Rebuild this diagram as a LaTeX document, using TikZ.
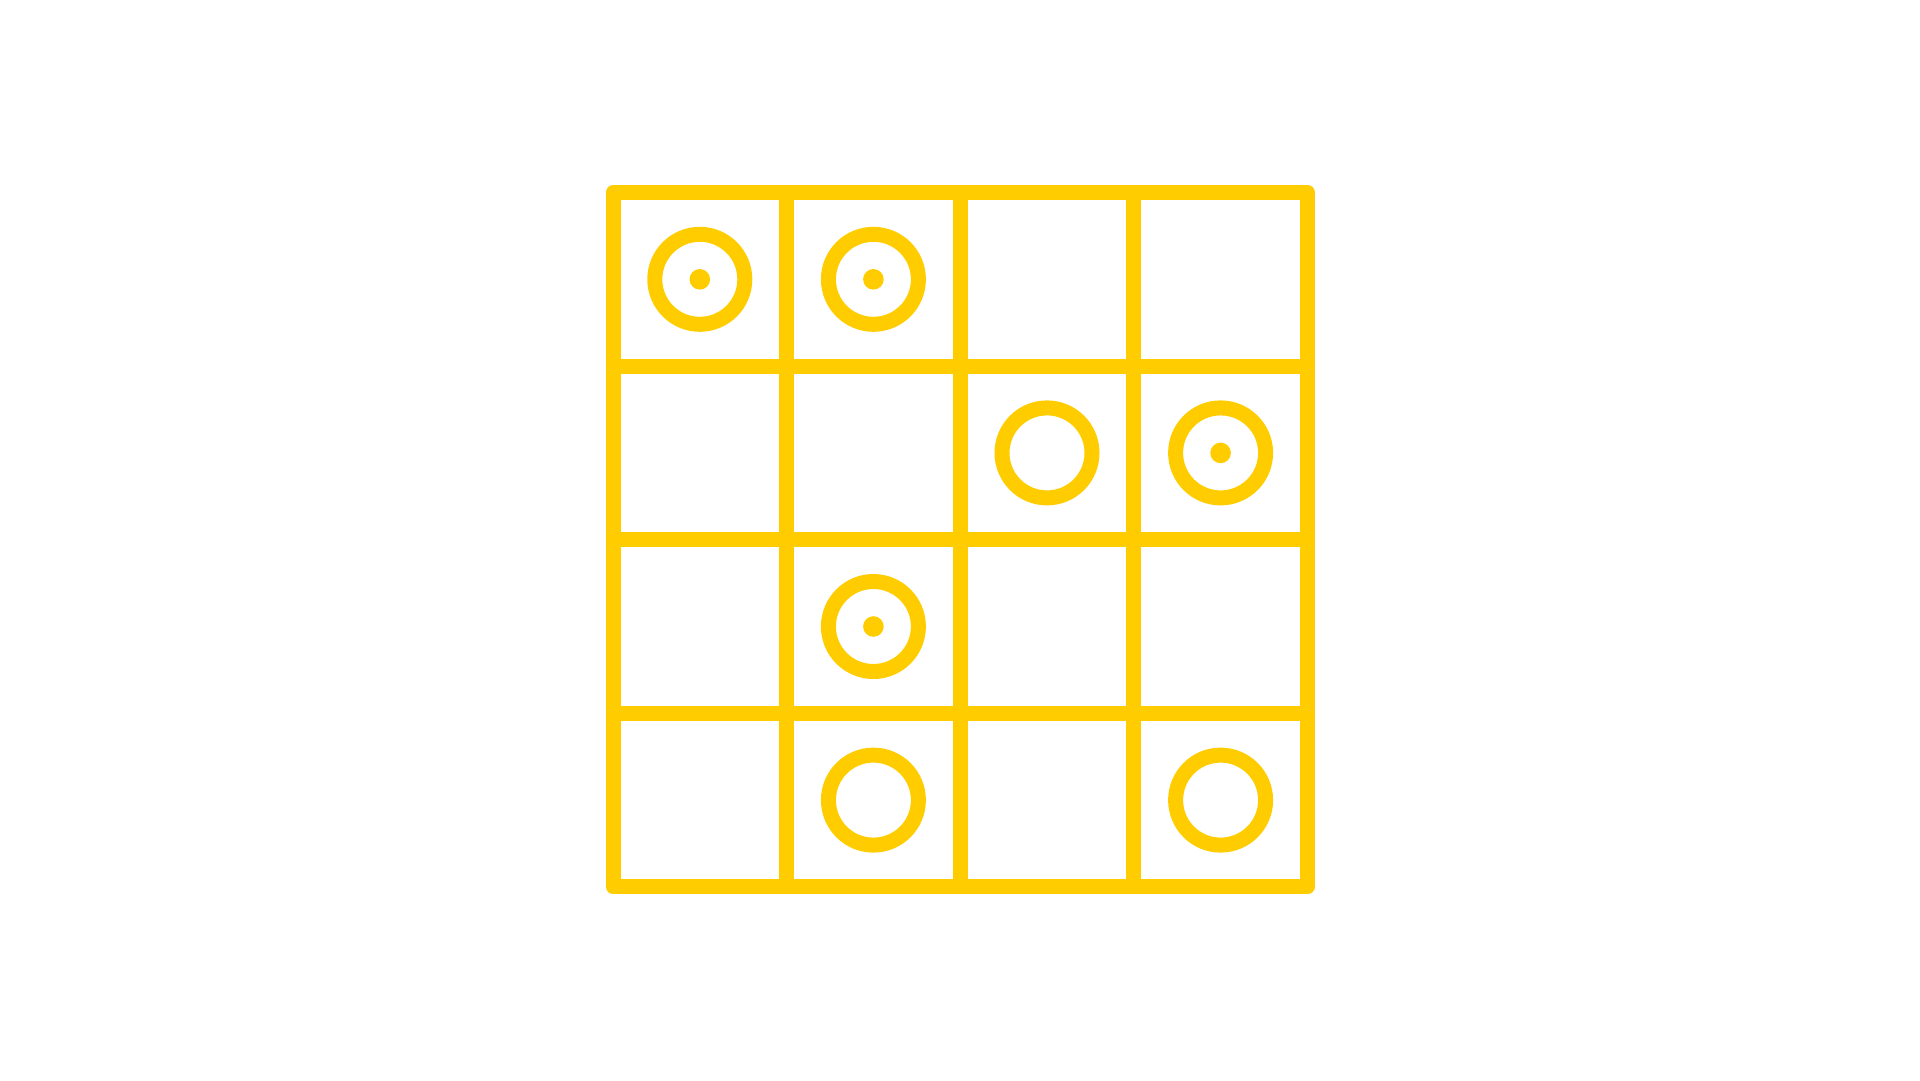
\documentclass[tikz,border=0pt]{standalone}
\definecolor{gold}{HTML}{FFCC00}
\begin{document}
\begin{tikzpicture}[x=1pt,y=-1pt,
  gridline/.style={draw=gold,line width=15pt},
  ring/.style={circle,draw=gold,line width=15pt,minimum size=90pt,inner sep=0pt},
  dotmark/.style={circle,fill=gold,minimum size=20.6pt,inner sep=0pt}]
\useasboundingbox (0,0) rectangle (1920,1080);
\def\cs{173.6}
\def\ox{613}
\def\oy{192.5}
% outer frame
\draw[gridline,line join=round] (\ox,\oy) rectangle ({\ox+4*\cs},{\oy+4*\cs});
% inner lines
\foreach \i in {1,2,3}{
  \draw[gridline] ({\ox+\i*\cs},\oy) -- ({\ox+\i*\cs},{\oy+4*\cs});
  \draw[gridline] (\ox,{\oy+\i*\cs}) -- ({\ox+4*\cs},{\oy+\i*\cs});
}
% rings
\foreach \c/\r/\d [count=\k] in {0/0/1,1/0/1,2/1/0,3/1/1,1/2/1,1/3/0,3/3/0}{
  \node[ring] (r\k) at ({\ox+(\c+0.5)*\cs},{\oy+(\r+0.5)*\cs}) {};
  \ifnum\d=1
    \node[dotmark] (d\k) at (r\k.center) {};
  \fi
}
\end{tikzpicture}
\end{document}
